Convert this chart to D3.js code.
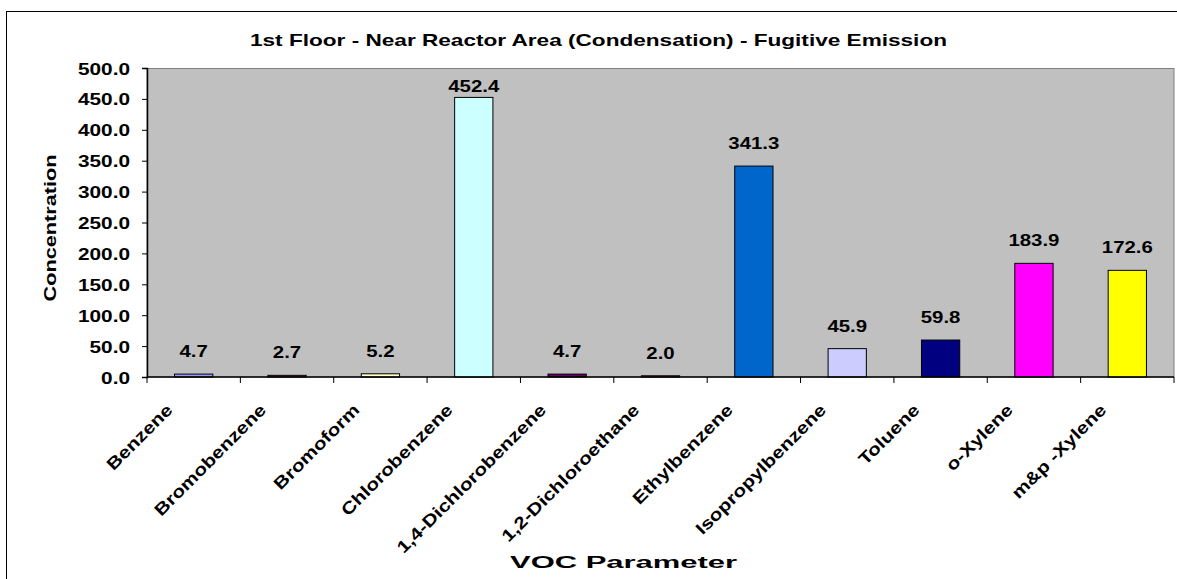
<!DOCTYPE html>
<html>
<head>
<meta charset="utf-8">
<script src="https://cdn.jsdelivr.net/npm/d3@7"></script>
<style>
  html, body { margin: 0; padding: 0; background: #fff; }
  svg { display: block; }
  text { font-family: Arial, "Liberation Sans", sans-serif; font-weight: bold; fill: #000; }
</style>
</head>
<body>
<svg id="chart" width="1177" height="579"></svg>
<script>
const categories = ["Benzene","Bromobenzene","Bromoform","Chlorobenzene","1,4-Dichlorobenzene","1,2-Dichloroethane","Ethylbenzene","Isopropylbenzene","Toluene","o-Xylene","m&p -Xylene"];
const values = [4.7, 2.7, 5.2, 452.4, 4.7, 2.0, 341.3, 45.9, 59.8, 183.9, 172.6];
const barColors = ["#9999FF","#993366","#FFFFCC","#CCFFFF","#660066","#FF8080","#0066CC","#CCCCFF","#000080","#FF00FF","#FFFF00"];
const yTicks = [0, 50, 100, 150, 200, 250, 300, 350, 400, 450, 500];
const titleText = "1st Floor - Near Reactor Area (Condensation) - Fugitive Emission";
const xTitle = "VOC Parameter";
const yTitle = "Concentration";

const svg = d3.select("#chart");
const plot = {left: 147, right: 1174, top: 68, bottom: 377};

// outer chart border
svg.append("rect").attr("x", 6.5).attr("y", 11.5).attr("width", 1200).attr("height", 700)
  .attr("fill", "#fff").attr("stroke", "#000").attr("stroke-width", 1);

const x = d3.scaleBand().domain(categories).range([plot.left, plot.right]).padding(0);
const y = d3.scaleLinear().domain([0, 500]).range([plot.bottom, plot.top]);

// plot area
svg.append("rect").attr("x", plot.left).attr("y", plot.top + 0.5)
  .attr("width", plot.right - plot.left).attr("height", plot.bottom - plot.top - 0.5)
  .attr("fill", "#C0C0C0").attr("stroke", "#808080").attr("stroke-width", 1);

// bars
const barW = x.bandwidth() * 0.41;
svg.append("g").selectAll("rect").data(values).join("rect")
  .attr("x", (d, i) => x(categories[i]) + (x.bandwidth() - barW) / 2)
  .attr("y", d => y(d))
  .attr("width", barW)
  .attr("height", d => y(0) - y(d))
  .attr("fill", (d, i) => barColors[i])
  .attr("stroke", "#000").attr("stroke-width", 1);

// y axis
const yAxis = d3.axisLeft(y).tickValues(yTicks).tickFormat(d3.format(".1f")).tickSize(5).tickPadding(12);
const gy = svg.append("g").attr("transform", `translate(${plot.left},0)`).call(yAxis);
gy.select(".domain").attr("stroke", "#000").attr("stroke-width", 1.5);
gy.selectAll(".tick line").attr("stroke", "#000");
gy.selectAll(".tick text")
  .attr("font-size", 16).attr("font-family", "Arial, 'Liberation Sans', sans-serif").attr("font-weight", "bold")
  .attr("x", null).attr("dy", null).attr("text-anchor", "end")
  .attr("transform", `translate(-17,6) scale(1.3,1)`);

// x axis
const gx = svg.append("g").attr("transform", `translate(0,${plot.bottom})`);
gx.append("line").attr("x1", plot.left).attr("x2", plot.right).attr("y1", 0).attr("y2", 0)
  .attr("stroke", "#000").attr("stroke-width", 1.5);
const boundaries = categories.map(c => x(c)).concat([plot.right]);
gx.selectAll("line.tk").data(boundaries).join("line").attr("class", "tk")
  .attr("x1", d => d).attr("x2", d => d).attr("y1", 0).attr("y2", 6)
  .attr("stroke", "#000").attr("stroke-width", 1);

// category labels
svg.append("g").selectAll("text").data(categories).join("text")
  .attr("text-anchor", "end").attr("font-size", 17)
  .attr("transform", d => `translate(${x(d) + x.bandwidth() / 2 - 20},${plot.bottom + 34}) rotate(-45) scale(1.22,1)`)
  .text(d => d);

// value labels
svg.append("g").selectAll("text").data(values).join("text")
  .attr("text-anchor", "middle").attr("font-size", 17)
  .attr("transform", (d, i) => `translate(${x(categories[i]) + x.bandwidth() / 2},${Math.max(y(d) - 17, plot.top + 24)}) scale(1.2,1)`)
  .text(d => d3.format(".1f")(d));

// title
svg.append("text").attr("x", 598.5).attr("y", 46).attr("text-anchor", "middle")
  .attr("font-size", 17).attr("textLength", 697).attr("lengthAdjust", "spacingAndGlyphs")
  .text(titleText);

// x axis title
svg.append("text").attr("x", 623.5).attr("y", 568).attr("text-anchor", "middle")
  .attr("font-size", 16).attr("textLength", 227).attr("lengthAdjust", "spacingAndGlyphs")
  .text(xTitle);

// y axis title
svg.append("text").attr("transform", "translate(56,228) rotate(-90)").attr("text-anchor", "middle")
  .attr("font-size", 17).attr("textLength", 147).attr("lengthAdjust", "spacingAndGlyphs")
  .text(yTitle);
</script>
</body>
</html>
